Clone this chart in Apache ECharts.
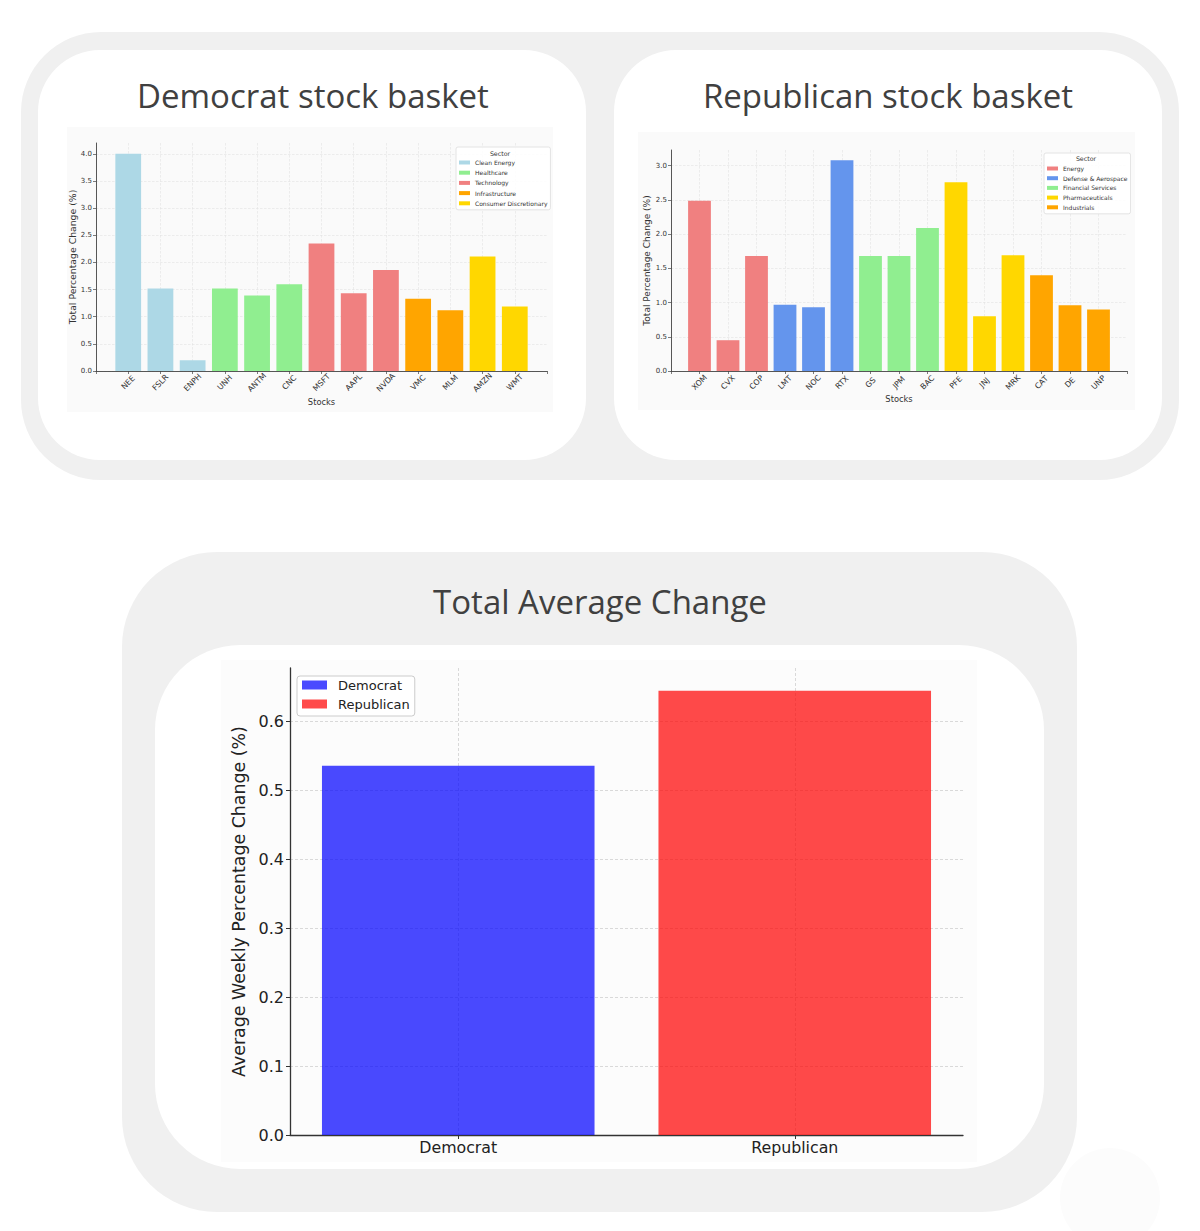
<!DOCTYPE html>
<html>
<head>
<meta charset="utf-8">
<script src="https://cdn.jsdelivr.net/npm/echarts@6/dist/echarts.min.js"></script>
<style>
  html, body { margin: 0; padding: 0; background: #ffffff; }
  #chart { width: 1200px; height: 1231px; }
</style>
</head>
<body>
<div id="chart"></div>
<script>
// ---------------- DATA ----------------
const demStocks = ['NEE', 'FSLR', 'ENPH', 'UNH', 'ANTM', 'CNC', 'MSFT', 'AAPL', 'NVDA', 'VMC', 'MLM', 'AMZN', 'WMT'];
const demValues = [4.00, 1.52, 0.20, 1.52, 1.39, 1.60, 2.35, 1.43, 1.86, 1.33, 1.12, 2.11, 1.19];
const demStockSector = ['Clean Energy', 'Clean Energy', 'Clean Energy', 'Healthcare', 'Healthcare', 'Healthcare',
  'Technology', 'Technology', 'Technology', 'Infrastructure', 'Infrastructure',
  'Consumer Discretionary', 'Consumer Discretionary'];
const demSectors = ['Clean Energy', 'Healthcare', 'Technology', 'Infrastructure', 'Consumer Discretionary'];
const demSectorColors = ['#add8e6', '#90ee90', '#f08080', '#ffa500', '#ffd700'];

const repStocks = ['XOM', 'CVX', 'COP', 'LMT', 'NOC', 'RTX', 'GS', 'JPM', 'BAC', 'PFE', 'JNJ', 'MRK', 'CAT', 'DE', 'UNP'];
const repValues = [2.49, 0.45, 1.68, 0.97, 0.93, 3.08, 1.68, 1.68, 2.09, 2.76, 0.80, 1.69, 1.40, 0.96, 0.90];
const repStockSector = ['Energy', 'Energy', 'Energy', 'Defense & Aerospace', 'Defense & Aerospace', 'Defense & Aerospace',
  'Financial Services', 'Financial Services', 'Financial Services', 'Pharmaceuticals', 'Pharmaceuticals',
  'Pharmaceuticals', 'Industrials', 'Industrials', 'Industrials'];
const repSectors = ['Energy', 'Defense & Aerospace', 'Financial Services', 'Pharmaceuticals', 'Industrials'];
const repSectorColors = ['#f08080', '#6495ed', '#90ee90', '#ffd700', '#ffa500'];

const avgParties = ['Democrat', 'Republican'];
const avgValues = [0.536, 0.645];
const avgColors = ['rgba(0,0,255,0.71)', 'rgba(255,0,0,0.71)'];

const titleDem = 'Democrat stock basket';
const titleRep = 'Republican stock basket';
const titleAvg = 'Total Average Change';
const legendTitle = 'Sector';
const stockAxisName = 'Stocks';
const basketYName = 'Total Percentage Change (%)';
const avgYName = 'Average Weekly Percentage Change (%)';

// ---------------- STYLE / LAYOUT ----------------
const FONT = '"DejaVu Sans", sans-serif';
const HEAD_FONT = '"Open Sans", "Noto Sans", sans-serif';

const demGrid = { left: 96, top: 143, width: 451, height: 228 };
const repGrid = { left: 671, top: 150, width: 456, height: 221 };
const avgGrid = { left: 290, top: 668, width: 673, height: 467 };

const demXRange = [-1, demStocks.length];
const repXRange = [-1, repStocks.length];

function sectorSeries(stocks, values, stockSector, sectors, colors, axisIdx, grid, xRange) {
  const unit = grid.width / (xRange[1] - xRange[0]);
  return sectors.map((s, k) => ({
    name: s,
    type: 'bar',
    xAxisIndex: axisIdx,
    yAxisIndex: axisIdx,
    barWidth: unit * 0.8,
    barGap: '-100%',
    itemStyle: { color: colors[k] },
    emphasis: { disabled: true },
    data: stocks.map((n, i) => stockSector[i] === s ? [i, values[i]] : null).filter(d => d !== null)
  }));
}

function basketXAxis(idx, names, range, nameGap) {
  return {
    gridIndex: idx, type: 'value', min: range[0], max: range[1], interval: 1,
    axisLine: { show: true, onZero: false, lineStyle: { color: '#444', width: 0.9 } },
    axisTick: { show: true, length: 3, lineStyle: { color: '#444', width: 0.7 } },
    axisLabel: {
      formatter: v => { const i = Math.round(v); return (i >= 0 && i < names.length) ? names[i] : ''; },
      rotate: 45, align: 'center', verticalAlign: 'middle', margin: 11.5,
      fontSize: 7.8, color: '#333', fontFamily: FONT
    },
    splitLine: { show: true, showMinLine: false, showMaxLine: false,
      lineStyle: { type: [2.5, 1.5], color: '#e2e2e2', width: 0.6 } },
    name: stockAxisName, nameLocation: 'middle', nameGap: nameGap,
    nameTextStyle: { fontSize: 8.3, color: '#333', fontFamily: FONT }
  };
}

function basketYAxis(idx, max, nameGap, nameSize) {
  return {
    gridIndex: idx, type: 'value', min: 0, max: max, interval: 0.5,
    axisLine: { show: true, onZero: false, lineStyle: { color: '#444', width: 0.9 } },
    axisTick: { show: true, length: 3, lineStyle: { color: '#444', width: 0.7 } },
    axisLabel: { formatter: v => v.toFixed(1), showMaxLabel: false, margin: 4,
      fontSize: 7, color: '#333', fontFamily: FONT },
    splitLine: { show: true, showMaxLine: false,
      lineStyle: { type: [2.5, 1.5], color: '#e2e2e2', width: 0.6 } },
    name: basketYName, nameLocation: 'middle', nameRotate: 90, nameGap: nameGap,
    nameTextStyle: { fontSize: nameSize, color: '#333', fontFamily: FONT }
  };
}

function sectorLegend(sectors, left, top, gap) {
  return {
    orient: 'vertical', left: left, top: top,
    data: sectors, icon: 'rect', itemWidth: 11, itemHeight: 4, itemGap: gap,
    padding: [12, 3, 3, 3],
    backgroundColor: 'rgba(255,255,255,0.9)', borderColor: '#dddddd', borderWidth: 0.8, borderRadius: 2,
    textStyle: { fontSize: 6, lineHeight: 7, color: '#333', fontFamily: FONT },
    selectedMode: false
  };
}

const option = {
  animation: false,
  backgroundColor: '#ffffff',
  graphic: [
    // faint decoration
    { type: 'circle', z: -11, silent: true, shape: { cx: 1110, cy: 1198, r: 50 }, style: { fill: '#fcfcfc' } },
    // panels
    { type: 'rect', z: -10, silent: true, shape: { x: 21, y: 32, width: 1158, height: 448, r: 80 }, style: { fill: '#f0f0f0' } },
    { type: 'rect', z: -9, silent: true, shape: { x: 38, y: 50, width: 548, height: 410, r: 62 }, style: { fill: '#ffffff' } },
    { type: 'rect', z: -9, silent: true, shape: { x: 614, y: 50, width: 548, height: 410, r: 62 }, style: { fill: '#ffffff' } },
    { type: 'rect', z: -10, silent: true, shape: { x: 122, y: 552, width: 955, height: 660, r: 95 }, style: { fill: '#f0f0f0' } },
    { type: 'rect', z: -9, silent: true, shape: { x: 155, y: 645, width: 889, height: 524, r: 85 }, style: { fill: '#ffffff' } },
    // chart image backgrounds
    { type: 'rect', z: -8, silent: true, shape: { x: 67, y: 127, width: 486, height: 285 }, style: { fill: '#fafafa' } },
    { type: 'rect', z: -8, silent: true, shape: { x: 638, y: 132, width: 497, height: 278 }, style: { fill: '#fafafa' } },
    { type: 'rect', z: -8, silent: true, shape: { x: 221, y: 660, width: 756, height: 502 }, style: { fill: '#fcfcfc' } },
    // headings
    { type: 'text', z: 5, silent: true, style: { text: titleDem, x: 313, y: 95, align: 'center', verticalAlign: 'middle',
      font: '33px ' + HEAD_FONT, fill: '#404040' } },
    { type: 'text', z: 5, silent: true, style: { text: titleRep, x: 888, y: 95, align: 'center', verticalAlign: 'middle',
      font: '33px ' + HEAD_FONT, fill: '#404040' } },
    { type: 'text', z: 5, silent: true, style: { text: titleAvg, x: 600, y: 601, align: 'center', verticalAlign: 'middle',
      font: '33px ' + HEAD_FONT, fill: '#404040' } },
    // legend titles
    { type: 'text', z: 20, silent: true, style: { text: legendTitle, x: 500, y: 153.5, align: 'center', verticalAlign: 'middle',
      font: '6.3px ' + FONT, fill: '#333' } },
    { type: 'text', z: 20, silent: true, style: { text: legendTitle, x: 1086, y: 158.5, align: 'center', verticalAlign: 'middle',
      font: '6.3px ' + FONT, fill: '#333' } }
  ],
  grid: [
    Object.assign({ containLabel: false }, demGrid),
    Object.assign({ containLabel: false }, repGrid),
    Object.assign({ containLabel: false }, avgGrid)
  ],
  xAxis: [
    basketXAxis(0, demStocks, demXRange, 27),
    basketXAxis(1, repStocks, repXRange, 22),
    {
      gridIndex: 2, type: 'category', data: avgParties,
      axisLine: { show: true, lineStyle: { color: '#333', width: 1.3 } },
      axisTick: { show: true, alignWithLabel: true, length: 4, lineStyle: { color: '#333', width: 1 } },
      axisLabel: { fontSize: 15.8, color: '#222', margin: 4, fontFamily: FONT },
      splitLine: { show: true, alignWithLabel: true, lineStyle: { type: [3, 2], color: '#cfcfcf', width: 0.8 } }
    }
  ],
  yAxis: [
    basketYAxis(0, 4.2, 12, 9.3),
    basketYAxis(1, 3.23, 15, 9),
    {
      gridIndex: 2, type: 'value', min: 0, max: 0.678, interval: 0.1,
      axisLine: { show: true, onZero: false, lineStyle: { color: '#333', width: 1.3 } },
      axisTick: { show: true, length: 4, lineStyle: { color: '#333', width: 1 } },
      axisLabel: { formatter: v => v.toFixed(1), showMaxLabel: false, margin: 6,
        fontSize: 16, color: '#222', fontFamily: FONT },
      splitLine: { show: true, showMaxLine: false, lineStyle: { type: [3, 2], color: '#cfcfcf', width: 0.8 } },
      name: avgYName, nameLocation: 'middle', nameRotate: 90, nameGap: 30,
      nameTextStyle: { fontSize: 17.4, color: '#222', fontFamily: FONT }
    }
  ],
  legend: [
    sectorLegend(demSectors, 456, 147, 3.2),
    sectorLegend(repSectors, 1044, 153, 2.7),
    {
      orient: 'vertical', left: 297, top: 676,
      data: avgParties, icon: 'rect', itemWidth: 25, itemHeight: 9, itemGap: 5,
      padding: [2, 5, 5, 5],
      backgroundColor: '#ffffff', borderColor: '#cccccc', borderWidth: 1, borderRadius: 3,
      textStyle: { fontSize: 13, lineHeight: 14, color: '#222', fontFamily: FONT, padding: [0, 0, 0, 6] },
      selectedMode: false
    }
  ],
  series: [].concat(
    sectorSeries(demStocks, demValues, demStockSector, demSectors, demSectorColors, 0, demGrid, demXRange),
    sectorSeries(repStocks, repValues, repStockSector, repSectors, repSectorColors, 1, repGrid, repXRange),
    avgParties.map((p, k) => ({
      name: p, type: 'bar', xAxisIndex: 2, yAxisIndex: 2,
      barWidth: '81%', barGap: '-100%',
      itemStyle: { color: avgColors[k] },
      emphasis: { disabled: true },
      data: avgValues.map((v, i) => i === k ? v : '-')
    }))
  )
};

const chart = echarts.init(document.getElementById('chart'), null, { renderer: 'svg' });
chart.setOption(option);
</script>
</body>
</html>
